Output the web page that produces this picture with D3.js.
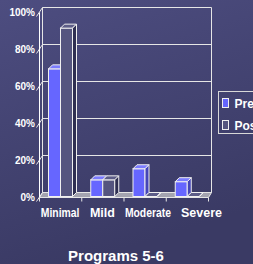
<!DOCTYPE html>
<html>
<head>
<meta charset="utf-8">
<script src="https://cdn.jsdelivr.net/npm/d3@7"></script>
<style>
  body { margin: 0; background: #42426f; }
  svg { display: block; font-family: "Liberation Sans", Arial, sans-serif; }
  text { fill: #ffffff; font-weight: bold; }
</style>
</head>
<body>
<div id="chart"></div>
<script>
// chart values
var categories = ["Minimal", "Mild", "Moderate", "Severe"];
var seriesNames = ["Pre", "Post"];
var preValues = [69, 9, 15, 8];
var postValues = [91, 9, 0, 0];
var yTicks = [0, 20, 40, 60, 80, 100];
var title = "Programs 5-6";

var svgWidth = 253, svgHeight = 264;
var wall = { dx: 3, dy: -5 };   // depth of the walls / floor
var bar = { dx: 4, dy: -4 };    // depth of each column

var svg = d3.select("#chart").append("svg")
  .attr("width", svgWidth)
  .attr("height", svgHeight);

// background gradient
var grad = svg.append("defs").append("linearGradient")
  .attr("id", "bg").attr("x1", 0).attr("y1", 0).attr("x2", 0.3).attr("y2", 1);
grad.append("stop").attr("offset", "0%").attr("stop-color", "#4d4d80");
grad.append("stop").attr("offset", "100%").attr("stop-color", "#3a3a64");
svg.append("rect").attr("width", svgWidth).attr("height", svgHeight).attr("fill", "url(#bg)");

// scales
var x = d3.scaleBand().domain(categories).range([39, 208]);
var xs = d3.scaleBand().domain(seriesNames).range([9, 33]);
var y = d3.scaleLinear().domain([0, 100]).range([197, 12]);

var g = svg.append("g").attr("transform", "translate(0.5,0.5)");

// back wall gridlines
var x0 = x.range()[0], x1 = x.range()[1];
g.selectAll(".grid").data(yTicks).enter().append("line")
  .attr("x1", x0 + wall.dx).attr("x2", x1 + wall.dx)
  .attr("y1", d => y(d) + wall.dy).attr("y2", d => y(d) + wall.dy)
  .attr("stroke", "#e6e6e6").attr("stroke-width", 1);

// right edge of back wall, left wall back edge
g.append("line")
  .attr("x1", x1 + wall.dx).attr("x2", x1 + wall.dx)
  .attr("y1", y(100) + wall.dy).attr("y2", y(0) + wall.dy)
  .attr("stroke", "#e6e6e6");
g.append("line")
  .attr("x1", x0 + wall.dx).attr("x2", x0 + wall.dx)
  .attr("y1", y(100) + wall.dy).attr("y2", y(0) + wall.dy)
  .attr("stroke", "#e6e6e6");

// floor
g.append("path")
  .attr("d", "M" + x0 + "," + y(0) + "L" + x1 + "," + y(0) +
    "L" + (x1 + wall.dx) + "," + (y(0) + wall.dy) +
    "L" + (x0 + wall.dx) + "," + (y(0) + wall.dy) + "Z")
  .attr("fill", "#a4a4b0").attr("stroke", "#e6e6e6");

// left wall diagonals + outward ticks
g.selectAll(".diag").data(yTicks).enter().append("line")
  .attr("x1", x0 - 3).attr("y1", d => y(d) + 4)
  .attr("x2", x0 + wall.dx).attr("y2", d => y(d) + wall.dy)
  .attr("stroke", "#e6e6e6");

// front value axis line
g.append("line")
  .attr("x1", x0).attr("x2", x0)
  .attr("y1", y(0)).attr("y2", y(100))
  .attr("stroke", "#ffffff");

// category ticks
g.selectAll(".ctick").data(categories.concat(["end"])).enter().append("line")
  .attr("x1", (d, i) => i < categories.length ? x(d) : x1)
  .attr("x2", (d, i) => i < categories.length ? x(d) : x1)
  .attr("y1", y(0)).attr("y2", y(0) + 4)
  .attr("stroke", "#e6e6e6");

// columns
var series = [
  { name: "Pre", values: preValues, front: "#6666ff", top: "#7b7bff", side: "#4545b8" },
  { name: "Post", values: postValues, front: "#55557f", top: "#5d5d88", side: "#2f2f52" }
];

function drawBar(parent, bx, w, v, s) {
  var yt = y(v) - 1, yb = y(0) - 1;
  var grp = parent.append("g");
  grp.append("rect")
    .attr("x", bx).attr("y", yt).attr("width", w).attr("height", yb - yt)
    .attr("fill", s.front).attr("stroke", "#f0f0f0");
  grp.append("path")
    .attr("d", "M" + bx + "," + yt + "L" + (bx + w) + "," + yt +
      "L" + (bx + w + bar.dx) + "," + (yt + bar.dy) +
      "L" + (bx + bar.dx) + "," + (yt + bar.dy) + "Z")
    .attr("fill", s.top).attr("stroke", "#f0f0f0");
  grp.append("path")
    .attr("d", "M" + (bx + w) + "," + yt + "L" + (bx + w + bar.dx) + "," + (yt + bar.dy) +
      "L" + (bx + w + bar.dx) + "," + (yb + bar.dy) + "L" + (bx + w) + "," + yb + "Z")
    .attr("fill", s.side).attr("stroke", "#f0f0f0");
}

categories.forEach(function(c, i) {
  series.forEach(function(s) {
    drawBar(g, x(c) + xs(s.name), xs.bandwidth(), s.values[i], s);
  });
});

// value axis labels
var yAxis = svg.append("g")
  .attr("transform", "translate(36,0)")
  .call(d3.axisLeft(y).tickValues(yTicks).tickFormat(d => d + "%").tickSize(0).tickPadding(1));
yAxis.select(".domain").remove();
yAxis.selectAll("text")
  .attr("fill", "#ffffff")
  .style("font-size", "10px")
  .style("font-weight", "bold")
  .style("font-family", "'Liberation Sans', Arial, sans-serif");

// category labels: squeeze wide ones, then push right to avoid touching
var prevRight = -Infinity;
svg.selectAll(".clabel").data(categories).enter().append("text")
  .attr("y", 217)
  .attr("text-anchor", "start")
  .style("font-size", "12.5px")
  .text(d => d)
  .each(function(d) {
    var el = d3.select(this);
    var len = this.getComputedTextLength();
    if (len > x.bandwidth()) {
      len = len * 0.83;
      el.attr("textLength", len).attr("lengthAdjust", "spacingAndGlyphs");
    }
    var left = x(d) + x.bandwidth() / 2 - len / 2;
    if (left < prevRight + 10) left = prevRight + 10;
    el.attr("x", left);
    prevRight = left + len;
  });

// legend
var legend = svg.append("g").attr("transform", "translate(218.5,91.5)");
legend.append("rect")
  .attr("width", 50).attr("height", 42)
  .attr("fill", "none").attr("stroke", "#d8d8d8");
var items = legend.selectAll(".item").data(series).enter().append("g")
  .attr("transform", (d, i) => "translate(4," + (7 + i * 22) + ")");
items.append("rect")
  .attr("width", 6).attr("height", 9)
  .attr("fill", d => d.front).attr("stroke", "#f0f0f0");
items.append("text")
  .attr("x", 12).attr("y", 9)
  .style("font-size", "12px")
  .text(d => d.name);

// title
svg.append("text")
  .attr("x", 116).attr("y", 261)
  .attr("text-anchor", "middle")
  .style("font-size", "15px")
  .text(title);
</script>
</body>
</html>
